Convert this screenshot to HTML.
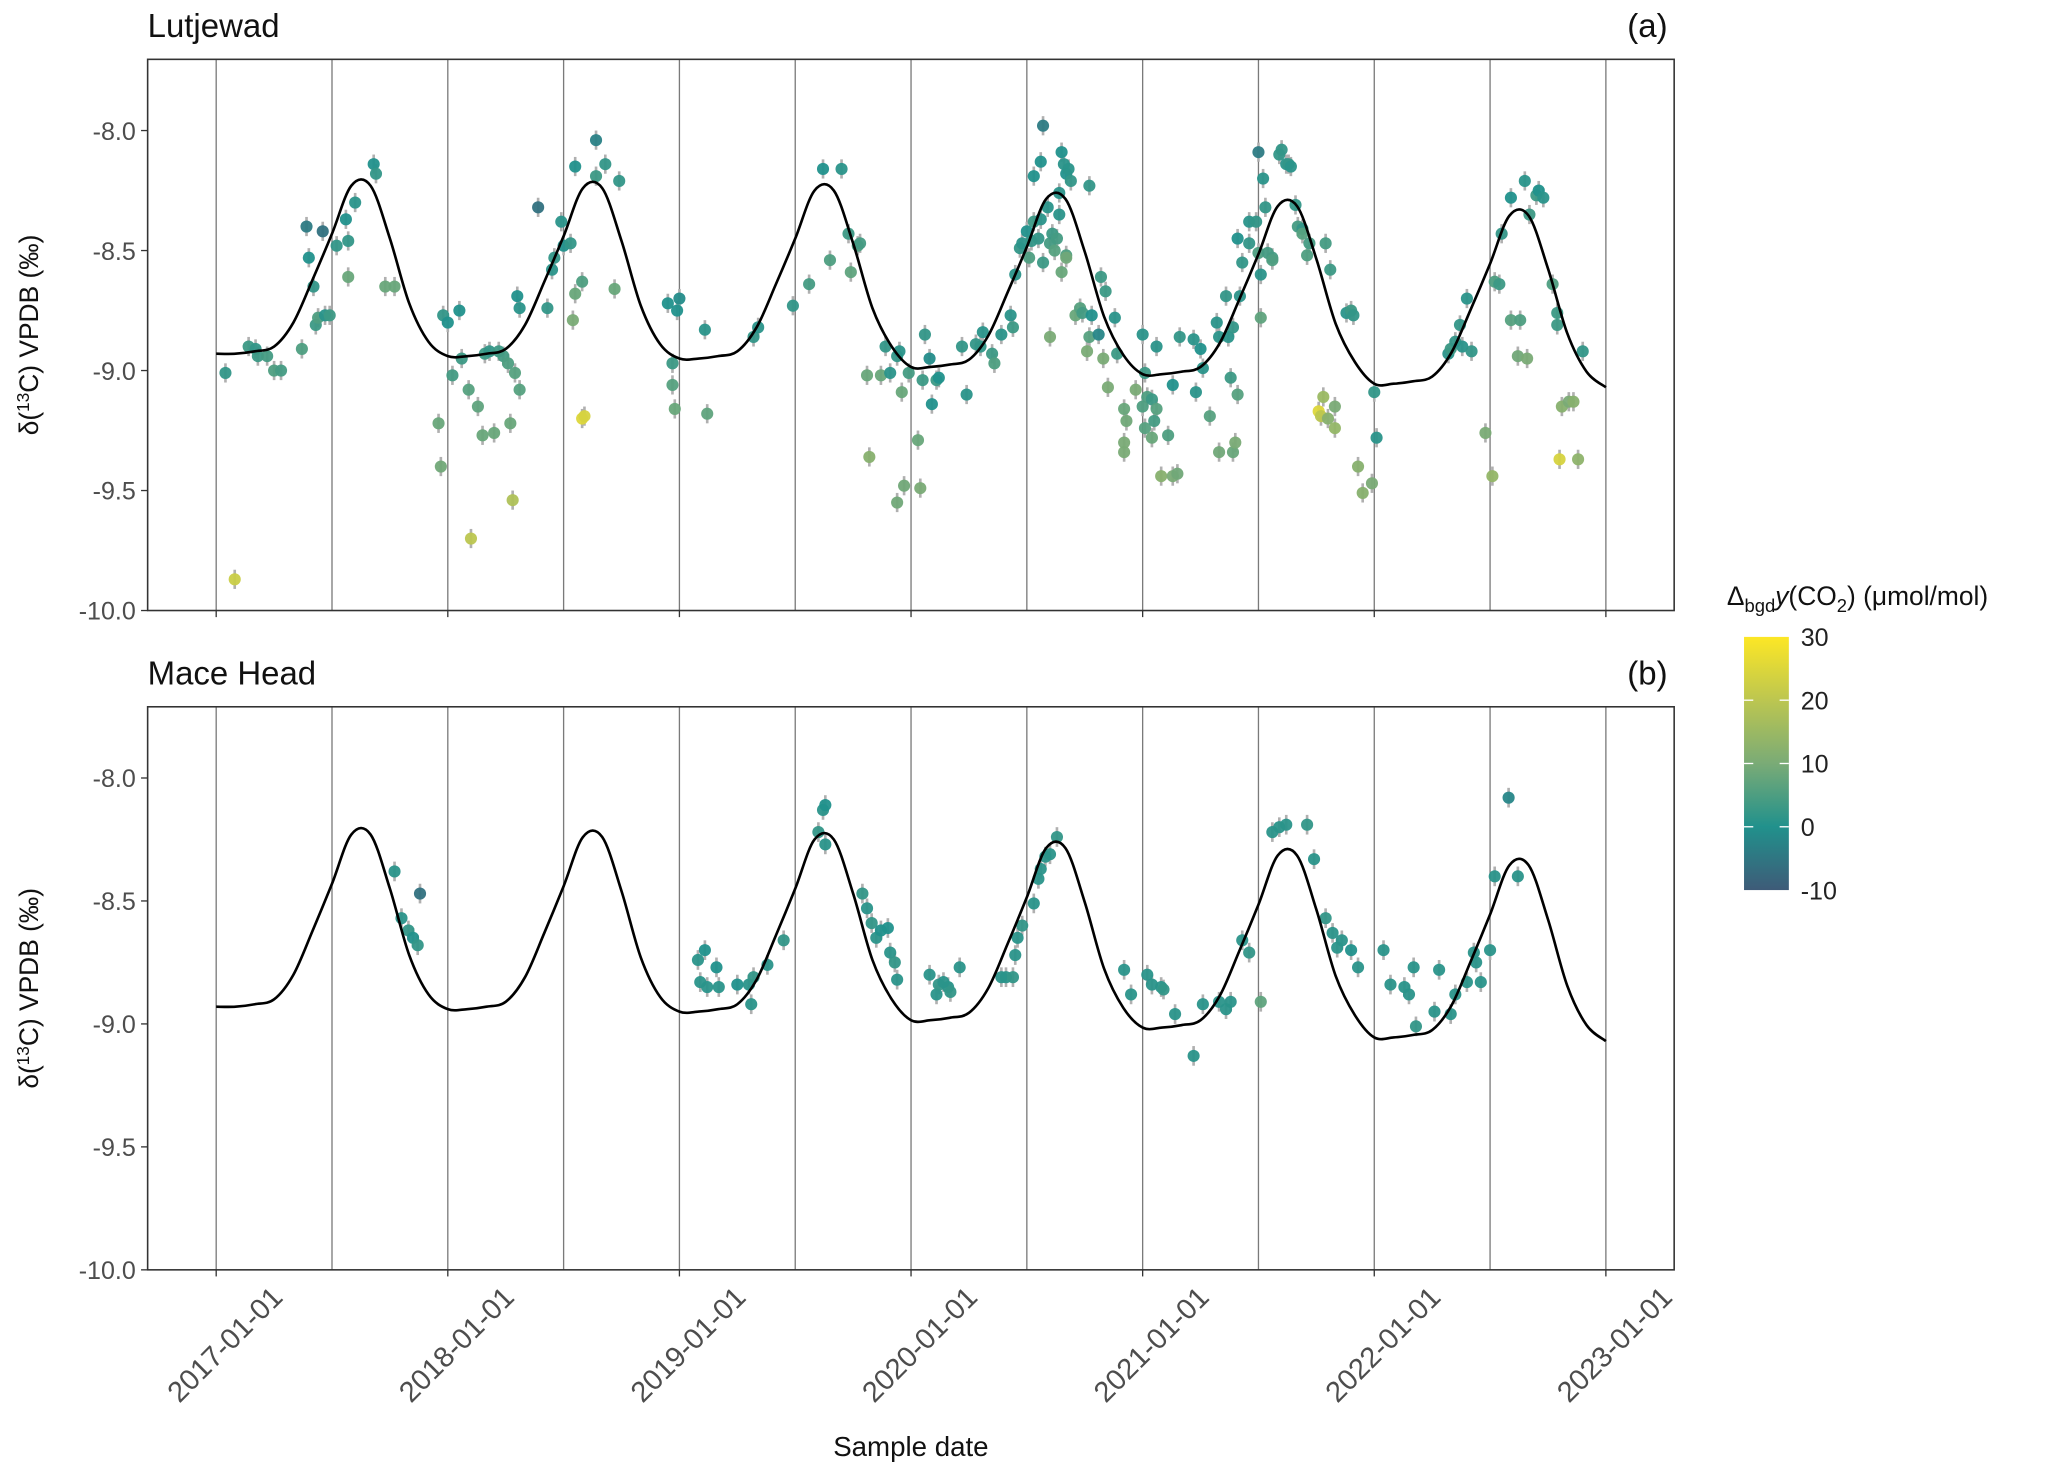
<!DOCTYPE html>
<html><head><meta charset="utf-8"><style>
html,body{margin:0;padding:0;background:#fff;}
svg{display:block;font-family:"Liberation Sans",sans-serif;}
</style></head><body>
<svg id="chart" width="2067" height="1465" viewBox="0 0 1568 1111" preserveAspectRatio="none" xmlns="http://www.w3.org/2000/svg">
<defs><linearGradient id="cb" x1="0" y1="1" x2="0" y2="0">
<stop offset="0" stop-color="#3e5b78"/><stop offset="0.25" stop-color="#21918c"/><stop offset="0.5" stop-color="#7aab76"/><stop offset="0.75" stop-color="#bcc650"/><stop offset="1" stop-color="#fde725"/></linearGradient></defs>
</svg>
<script>
// ---- data ----
const yearTicks = ["2017-01-01","2018-01-01","2019-01-01","2020-01-01","2021-01-01","2022-01-01","2023-01-01"];
const yTicks = [-8.0,-8.5,-9.0,-9.5,-10.0];
const curveMonthProfile = [-8.93,-8.93,-8.92,-8.90,-8.80,-8.62,-8.43,-8.23,-8.23,-8.45,-8.72,-8.88];
const curveYearOffset = [0,-0.01,-0.02,-0.055,-0.085,-0.125];
const curveEndValue = -9.07;
// panel a (Lutjewad): t = years since 2017-01-01, v = d13C, c = delta CO2
const aT = [.04,.14,.17,.18,.22,.25,.28,.37,.39,.40,.42,.43,.44,.47,.49,.52,.56,.57,.57,.60,.68,.69,.73,.77,.08,.46,
.96,.97,.98,1.00,1.02,1.05,1.06,1.09,1.10,1.13,1.15,1.16,1.18,1.20,1.22,1.24,1.26,1.27,1.28,1.29,1.30,1.31,1.31,1.39,1.43,1.45,1.46,1.49,1.50,1.53,1.54,1.55,1.55,1.58,1.58,1.59,1.64,1.64,1.68,1.72,1.74,
1.95,1.97,1.97,1.99,2.00,1.98,2.11,2.12,2.32,2.34,2.49,2.56,2.62,2.65,2.70,2.73,2.74,2.77,2.78,2.81,2.82,2.87,2.89,2.91,2.94,2.95,2.96,2.94,2.97,2.99,3.03,3.04,3.05,3.06,3.08,3.09,3.11,3.12,3.24,3.30,3.31,3.35,3.36,3.22,3.28,3.39,3.43,3.44,3.45,3.47,3.48,3.50,3.51,3.52,3.53,3.53,3.55,3.56,3.56,3.57,3.57,3.59,3.60,3.60,3.61,3.62,3.63,3.64,3.64,3.65,3.65,3.66,3.67,3.67,3.68,3.69,3.67,3.71,3.73,3.74,3.76,3.77,3.77,3.78,3.81,3.82,3.83,3.84,3.85,3.88,3.89,3.92,3.92,3.92,3.93,3.97,4.00,4.00,4.01,4.01,4.02,4.04,4.04,4.05,4.06,4.06,4.08,4.11,4.13,4.13,4.15,4.16,4.22,4.23,4.25,4.26,4.29,4.32,4.33,4.33,4.36,4.37,4.38,4.39,4.39,4.40,4.41,4.41,4.42,4.43,4.46,4.46,4.49,4.50,4.50,4.51,4.51,4.52,4.53,4.54,4.56,4.56,4.59,4.60,4.62,4.63,4.64,4.66,4.67,4.69,4.69,4.71,4.72,4.76,4.77,4.78,4.79,4.80,4.81,4.83,4.83,4.88,4.90,4.91,4.93,4.95,4.99,5.00,5.01,
5.32,5.33,5.35,5.37,5.38,5.40,5.42,5.48,5.51,5.52,5.54,5.55,5.59,5.59,5.62,5.63,5.65,5.66,5.67,5.70,5.71,5.73,5.77,5.79,5.79,5.80,5.81,5.84,5.86,5.88,5.90];
const aV = [-9.01,-8.90,-8.91,-8.94,-8.94,-9.00,-9.00,-8.91,-8.40,-8.53,-8.65,-8.81,-8.78,-8.77,-8.77,-8.48,-8.37,-8.46,-8.61,-8.30,-8.14,-8.18,-8.65,-8.65,-9.87,-8.42,
-9.22,-9.40,-8.77,-8.80,-9.02,-8.75,-8.95,-9.08,-9.70,-9.15,-9.27,-8.93,-8.92,-9.26,-8.92,-8.94,-8.97,-9.22,-9.54,-9.01,-8.69,-9.08,-8.74,-8.32,-8.74,-8.58,-8.53,-8.38,-8.48,-8.47,-8.79,-8.15,-8.68,-9.20,-8.63,-9.19,-8.04,-8.19,-8.14,-8.66,-8.21,
-8.72,-8.97,-9.06,-8.75,-8.70,-9.16,-8.83,-9.18,-8.86,-8.82,-8.73,-8.64,-8.16,-8.54,-8.16,-8.43,-8.59,-8.48,-8.47,-9.02,-9.36,-9.02,-8.90,-9.01,-8.94,-8.92,-9.09,-9.55,-9.48,-9.01,-9.29,-9.49,-9.04,-8.85,-8.95,-9.14,-9.04,-9.03,-9.10,-8.90,-8.84,-8.93,-8.97,-8.90,-8.89,-8.85,-8.77,-8.82,-8.60,-8.49,-8.47,-8.42,-8.53,-8.46,-8.38,-8.19,-8.45,-8.37,-8.13,-8.55,-7.98,-8.32,-8.47,-8.86,-8.43,-8.50,-8.45,-8.26,-8.35,-8.59,-8.09,-8.14,-8.52,-8.18,-8.16,-8.21,-8.53,-8.77,-8.74,-8.76,-8.92,-8.86,-8.23,-8.77,-8.85,-8.61,-8.95,-8.67,-9.07,-8.78,-8.93,-9.16,-9.30,-9.34,-9.21,-9.08,-9.15,-8.85,-9.24,-9.01,-9.11,-9.12,-9.28,-9.21,-9.16,-8.90,-9.44,-9.27,-9.06,-9.44,-9.43,-8.86,-8.87,-9.09,-8.91,-8.99,-9.19,-8.80,-9.34,-8.86,-8.69,-8.86,-9.03,-8.82,-9.34,-9.30,-8.45,-9.10,-8.69,-8.55,-8.38,-8.47,-8.38,-8.09,-8.51,-8.60,-8.78,-8.20,-8.32,-8.51,-8.53,-8.54,-8.10,-8.08,-8.14,-8.14,-8.15,-8.31,-8.40,-8.41,-8.43,-8.52,-8.47,-9.17,-9.19,-9.11,-8.47,-9.20,-8.58,-9.15,-9.24,-8.76,-8.75,-8.77,-9.40,-9.51,-9.47,-9.09,-9.28,
-8.93,-8.91,-8.88,-8.81,-8.90,-8.70,-8.92,-9.26,-9.44,-8.63,-8.64,-8.43,-8.79,-8.28,-8.94,-8.79,-8.21,-8.95,-8.35,-8.27,-8.25,-8.28,-8.64,-8.76,-8.81,-9.37,-9.15,-9.13,-9.13,-9.37,-8.92];
const aC = [2,3,2,3,4,5,4,5,-4,0,2,3,5,1,3,2,0,2,8,1,0,2,8,8,22,-6,
8,9,2,0,4,0,3,6,20,7,8,3,2,8,3,4,5,8,18,6,0,6,1,-6,2,1,2,1,0,2,10,0,8,25,5,24,-3,3,2,8,2,
0,3,6,0,-1,8,1,7,2,1,2,4,0,5,1,3,7,5,4,8,12,8,2,1,2,1,8,9,9,4,8,10,3,2,-1,0,3,0,1,2,1,3,5,2,2,1,1,3,1,2,1,0,5,2,3,0,2,1,0,3,-4,1,4,10,3,6,4,1,1,8,0,1,5,0,1,2,9,8,6,4,10,6,2,0,-2,3,10,3,10,1,3,8,10,10,9,10,5,1,6,3,5,3,8,4,6,1,12,5,0,10,9,2,1,1,0,1,6,1,9,1,2,1,3,2,8,10,0,6,1,2,1,2,2,-4,5,1,7,1,2,4,4,5,2,2,1,2,1,2,4,2,6,5,4,25,20,15,4,12,3,10,14,1,3,2,12,12,10,2,1,
1,3,2,2,1,1,2,10,14,5,3,2,6,0,9,5,1,10,3,3,0,1,5,3,3,24,12,10,12,13,2];
// panel b (Mace Head)
const bT = [.77,.80,.83,.85,.87,.88,2.08,2.09,2.11,2.12,2.16,2.17,2.25,2.30,2.31,2.32,2.38,2.45,2.60,2.62,2.63,2.63,2.79,2.81,2.83,2.85,2.87,2.90,2.91,2.93,2.94,3.08,3.11,3.12,3.14,3.16,3.17,3.21,3.39,3.41,3.44,3.45,3.46,3.48,3.53,3.55,3.56,3.58,3.60,3.63,3.92,3.95,4.02,4.04,4.08,4.09,4.14,4.22,4.26,4.33,4.36,4.38,4.43,4.46,4.51,4.56,4.59,4.62,4.71,4.74,4.79,4.82,4.84,4.86,4.90,4.93,5.04,5.07,5.13,5.15,5.17,5.18,5.26,5.28,5.33,5.35,5.40,5.43,5.44,5.46,5.50,5.52,5.58,5.62];
const bV = [-8.38,-8.57,-8.62,-8.65,-8.68,-8.47,-8.74,-8.83,-8.70,-8.85,-8.77,-8.85,-8.84,-8.84,-8.92,-8.81,-8.76,-8.66,-8.22,-8.13,-8.11,-8.27,-8.47,-8.53,-8.59,-8.65,-8.62,-8.61,-8.71,-8.75,-8.82,-8.80,-8.88,-8.84,-8.83,-8.85,-8.87,-8.77,-8.81,-8.81,-8.81,-8.72,-8.65,-8.60,-8.51,-8.41,-8.37,-8.32,-8.31,-8.24,-8.78,-8.88,-8.80,-8.84,-8.85,-8.86,-8.96,-9.13,-8.92,-8.91,-8.94,-8.91,-8.66,-8.71,-8.91,-8.22,-8.20,-8.19,-8.19,-8.33,-8.57,-8.63,-8.69,-8.66,-8.70,-8.77,-8.70,-8.84,-8.85,-8.88,-8.77,-9.01,-8.95,-8.78,-8.96,-8.88,-8.83,-8.71,-8.75,-8.83,-8.70,-8.40,-8.08,-8.40];
const bC = [1,1,2,0,2,-6,1,1,0,1,0,1,0,1,1,2,1,2,2,1,0,1,2,1,2,1,0,0,1,2,1,1,1,2,1,1,2,1,1,1,2,1,1,2,1,1,1,1,1,2,1,1,1,1,1,2,1,1,1,1,1,1,1,2,7,1,1,1,2,1,2,1,1,1,0,1,1,1,1,1,1,2,1,1,1,1,1,1,1,1,1,1,-2,1];
const errHalf = 0.04;
const legendTicks = [30,20,10,0,-10];

// ---- rendering ----
const NS="http://www.w3.org/2000/svg";
const svg=document.getElementById('chart');
function mk(tag,attrs,parent){const e=document.createElementNS(NS,tag);for(const k in attrs)e.setAttribute(k,attrs[k]);(parent||svg).appendChild(e);return e;}
const X0=164, XPY=175.7;
const xs=t=>X0+t*XPY;
const panels=[{top:45,bot:463,y8:99,y10:463,title:"Lutjewad",tag:"(a)",T:aT,V:aV,C:aC,name:"lutjewad"},
              {top:536,bot:963,y8:590,y10:963,title:"Mace Head",tag:"(b)",T:bT,V:bV,C:bC,name:"mace-head"}];
const stops=[[-10,[62,91,120]],[0,[33,145,140]],[10,[122,171,118]],[20,[188,198,80]],[30,[253,231,37]]];
function col(c){c=Math.max(-10,Math.min(30,c));for(let i=0;i<stops.length-1;i++){const[a,ca]=stops[i],[b,cb]=stops[i+1];if(c<=b){const f=(c-a)/(b-a);return `rgb(${ca.map((v,j)=>Math.round(v+(cb[j]-v)*f)).join(',')})`;}}}
const cT=[],cV=[];
for(let y=0;y<curveYearOffset.length;y++)for(let m=0;m<12;m++){cT.push(y+m/12);cV.push(curveMonthProfile[m]+curveYearOffset[y]);}
cT.push(6);cV.push(curveEndValue);
function spline(pts){let d=`M${pts[0][0]},${pts[0][1]}`;for(let i=0;i<pts.length-1;i++){const p0=pts[Math.max(0,i-1)],p1=pts[i],p2=pts[i+1],p3=pts[Math.min(pts.length-1,i+2)];
d+=` C${p1[0]+(p2[0]-p0[0])/6},${p1[1]+(p2[1]-p0[1])/6} ${p2[0]-(p3[0]-p1[0])/6},${p2[1]-(p3[1]-p1[1])/6} ${p2[0]},${p2[1]}`;}return d;}

panels.forEach(p=>{
  const Y=v=>p.y8+((-8)-v)/2*(p.y10-p.y8);
  const g=mk('g',{});
  
  mk('rect',{x:112,y:p.top,width:1158,height:p.bot-p.top,fill:'#fff'},g);
  for(let i=0;i<=12;i++){const x=xs(i/2);const l=mk('line',{x1:x,x2:x,y1:p.top,y2:p.bot,stroke:'#7a7a7a','stroke-width':1},g);
    }
  const box=mk('rect',{x:112,y:p.top,width:1158,height:p.bot-p.top,fill:'none',stroke:'#333','stroke-width':1.2},g);
  
  yTicks.forEach(v=>{mk('line',{x1:107,x2:112,y1:Y(v),y2:Y(v),stroke:'#333'},g);
    const t=mk('text',{x:103,y:Y(v)+7,'text-anchor':'end','font-size':19,fill:'#4d4d4d'},g);t.textContent=v.toFixed(1);
    });
  yearTicks.forEach((s,i)=>mk('line',{x1:xs(i),x2:xs(i),y1:p.bot,y2:p.bot+5,stroke:'#333'},g));
  const tt=mk('text',{x:112,y:p.top-17,'font-size':25,fill:'#111'},g);tt.textContent=p.title;
  
  const tg=mk('text',{x:1265,y:p.top-17,'text-anchor':'end','font-size':25,fill:'#111'},g);tg.textContent=p.tag;
  
  const cy=(p.top+p.bot)/2;
  const yt=mk('text',{x:0,y:0,transform:`translate(29,${cy}) rotate(-90)`,'text-anchor':'middle','font-size':20,fill:'#111'},g);
  yt.innerHTML='δ(<tspan dy="-7" font-size="13">13</tspan><tspan dy="7">C) VPDB (‰)</tspan>';
  
  for(let i=0;i<p.T.length;i++){const x=xs(p.T[i]);
    const e=mk('line',{x1:x,x2:x,y1:Y(p.V[i]+errHalf),y2:Y(p.V[i]-errHalf),stroke:'#b0b0b0','stroke-width':2},g);
    }
  for(let i=0;i<p.T.length;i++){const c=mk('circle',{cx:xs(p.T[i]),cy:Y(p.V[i]),r:4.6,fill:col(p.C[i]),'fill-opacity':0.95},g);
    }
  const path=mk('path',{d:spline(cT.map((t,i)=>[xs(t),Y(cV[i])])),fill:'none',stroke:'#000','stroke-width':2},g);
  
});
yearTicks.forEach((s,i)=>{const x=xs(i);const t=mk('text',{x:0,y:0,transform:`translate(${x+7},${1020}) rotate(-45)`,'text-anchor':'middle','dominant-baseline':'central','font-size':22,fill:'#4d4d4d'});
  t.textContent=s;});
const xt=mk('text',{x:691,y:1104,'text-anchor':'middle','font-size':21,fill:'#111'});xt.textContent='Sample date';

const lg=mk('g',{});
const lt=mk('text',{x:1310,y:459,'font-size':20,fill:'#111'},lg);
lt.innerHTML='Δ<tspan dy="5" font-size="14">bgd</tspan><tspan dy="-5" font-style="italic">y</tspan>(CO<tspan dy="5" font-size="14">2</tspan><tspan dy="-5">) (μmol/mol)</tspan>';

const LY=v=>675-(v+10)/40*192;
const bar=mk('rect',{x:1323,y:LY(30),width:34,height:192,fill:'url(#cb)'},lg);

legendTicks.forEach(v=>{const y=LY(v);
  if(v>-10&&v<30){mk('line',{x1:1323,x2:1330,y1:y,y2:y,stroke:'#fff','stroke-width':1},lg);mk('line',{x1:1350,x2:1357,y1:y,y2:y,stroke:'#fff','stroke-width':1},lg);}
  const t=mk('text',{x:1366,y:y+7,'font-size':19,fill:'#222'},lg);t.textContent=v;
  });
</script>
</body></html>
